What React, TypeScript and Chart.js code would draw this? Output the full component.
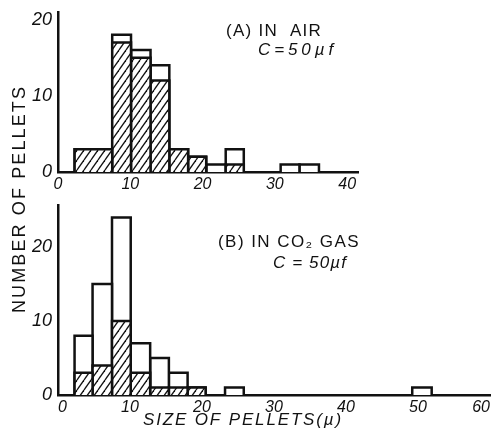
import React, { useEffect, useRef } from "react";
import { Chart, registerables } from "chart.js";

Chart.register(...registerables);

// ---------- data ----------
// Panel (A): in air, C = 50 µf
const binStartA = [2.3, 7.5, 10.1, 12.8, 15.4, 18.0, 20.5, 23.2, 30.8, 33.4];
const binEndA = [7.5, 10.1, 12.8, 15.4, 18.0, 20.5, 23.2, 25.7, 33.4, 36.1];
const totalA = [3, 18, 16, 14, 3, 2, 1, 3, 1, 1];
const hatchedA = [3, 17, 15, 12, 3, 2, 0, 1, 0, 0];

// Panel (B): in CO2 gas, C = 50 µf
const binStartB = [2.3, 4.8, 7.5, 10.1, 12.8, 15.4, 18.0, 23.2, 49.2];
const binEndB = [4.8, 7.5, 10.1, 12.8, 15.4, 18.0, 20.5, 25.8, 51.9];
const totalB = [8, 15, 24, 7, 5, 3, 1, 1, 1];
const hatchedB = [3, 4, 10, 3, 1, 1, 1, 0, 0];

const xTicksA = [0, 10, 20, 30, 40];
const yTicksA = [0, 10, 20];
const xTicksB = [0, 10, 20, 30, 40, 50, 60];
const yTicksB = [0, 10, 20];

const INK = "#111";
const W = 493;
const H = 435;

function makeHatch(): CanvasPattern | string {
  const c = document.createElement("canvas");
  const w = 7;
  const h = 10;
  c.width = w;
  c.height = h;
  const g = c.getContext("2d");
  if (!g) return "#fff";
  g.fillStyle = "#fff";
  g.fillRect(0, 0, w, h);
  g.strokeStyle = INK;
  g.lineWidth = 1.3;
  for (const off of [-w, 0, w]) {
    g.beginPath();
    g.moveTo(off, h);
    g.lineTo(off + w, 0);
    g.stroke();
  }
  const p = g.createPattern(c, "repeat");
  return p || "#fff";
}

function boxes(starts: number[], ends: number[], heights: number[], bg: any, order: number) {
  const out: any[] = [];
  heights.forEach((h, i) => {
    if (h <= 0) return;
    out.push({
      type: "line",
      data: [
        { x: starts[i], y: 0 },
        { x: starts[i], y: h },
        { x: ends[i], y: h },
        { x: ends[i], y: 0 },
      ],
      borderColor: INK,
      borderWidth: 2.5,
      borderJoinStyle: "miter",
      backgroundColor: bg,
      fill: "origin",
      pointRadius: 0,
      tension: 0,
      order,
    });
  });
  return out;
}

type TextItem = {
  text: string;
  x: number;
  y: number;
  font: string;
  width?: number;
  rotate?: boolean;
  align?: CanvasTextAlign;
};

function textPlugin(id: string, items: TextItem[]) {
  return {
    id,
    afterDraw(chart: any) {
      const ctx: CanvasRenderingContext2D = chart.ctx;
      items.forEach((it) => {
        ctx.save();
        ctx.font = it.font;
        ctx.fillStyle = INK;
        ctx.textBaseline = "middle";
        ctx.textAlign = it.align || "left";
        if (it.width) {
          const w = ctx.measureText(it.text).width;
          const n = Array.from(it.text).length;
          const sp = Math.max(0, (it.width - w) / n);
          (ctx as any).letterSpacing = `${sp}px`;
        }
        ctx.translate(it.x, it.y);
        if (it.rotate) ctx.rotate(-Math.PI / 2);
        ctx.fillText(it.text, 0, 0);
        ctx.restore();
      });
    },
  };
}

function axisOptions(
  min: number,
  max: number,
  ticks: number[],
  isX: boolean,
  fitSize: number,
  inner: boolean
) {
  return {
    type: "linear",
    position: isX ? "bottom" : "left",
    min,
    max,
    grid: { display: true, drawOnChartArea: false, drawTicks: false },
    border: { display: true, color: INK, width: 2.5 },
    ticks: {
      color: INK,
      padding: isX ? 3 : 6,
      align: inner ? "inner" : "center",
      maxRotation: 0,
      autoSkip: false,
      includeBounds: false,
      font: {
        family: "'Liberation Sans', Arial, sans-serif",
        style: "italic",
        size: isX ? 16 : 18,
      },
    },
    afterBuildTicks: (s: any) => {
      s.ticks = ticks.map((v) => ({ value: v }));
    },
    afterFit: (s: any) => {
      if (isX) {
        s.height = fitSize;
        s.paddingLeft = 0;
        s.paddingRight = 0;
      } else {
        s.width = fitSize;
        s.paddingTop = 0;
        s.paddingBottom = 0;
      }
    },
  };
}

function makeChart(
  canvas: HTMLCanvasElement,
  datasets: any[],
  xMax: number,
  yMax: number,
  xTicks: number[],
  yTicks: number[],
  padding: any,
  inner: boolean,
  plugin: any
) {
  return new Chart(canvas, {
    type: "line",
    data: { datasets },
    options: {
      responsive: false,
      animation: false,
      devicePixelRatio: 1,
      layout: { padding },
      plugins: {
        legend: { display: false },
        tooltip: { enabled: false },
        title: { display: false },
      },
      scales: {
        x: axisOptions(0, xMax, xTicks, true, 30, inner) as any,
        y: axisOptions(0, yMax, yTicks, false, 58, false) as any,
      },
    } as any,
    plugins: [plugin],
  });
}

export default function App() {
  const refA = useRef<HTMLCanvasElement>(null);
  const refB = useRef<HTMLCanvasElement>(null);

  useEffect(() => {
    if (!refA.current || !refB.current) return;
    const hatch = makeHatch();

    const dsA = [
      ...boxes(binStartA, binEndA, hatchedA, hatch, 0),
      ...boxes(binStartA, binEndA, totalA, "#fff", 1),
    ];
    const dsB = [
      ...boxes(binStartB, binEndB, hatchedB, hatch, 0),
      ...boxes(binStartB, binEndB, totalB, "#fff", 1),
    ];

    const textsA: TextItem[] = [
      { text: "(A) IN  AIR", x: 226, y: 31, font: "17px 'Liberation Sans', Arial, sans-serif", width: 96 },
      { text: "C=50µf", x: 258, y: 50, font: "italic 17px 'Liberation Sans', Arial, sans-serif", width: 79 },
      {
        text: "NUMBER OF PELLETS",
        x: 20,
        y: 199,
        font: "18px 'Liberation Sans', Arial, sans-serif",
        width: 228,
        rotate: true,
        align: "center",
      },
    ];
    const textsB: TextItem[] = [
      { text: "(B) IN CO₂ GAS", x: 218, y: 242, font: "17px 'Liberation Sans', Arial, sans-serif", width: 142 },
      { text: "C = 50µf", x: 273, y: 263, font: "italic 17px 'Liberation Sans', Arial, sans-serif", width: 74 },
      {
        text: "SIZE OF PELLETS(µ)",
        x: 243,
        y: 420,
        font: "italic 17px 'Liberation Sans', Arial, sans-serif",
        width: 200,
        align: "center",
      },
    ];

    const chartA = makeChart(
      refA.current,
      dsA,
      41.5,
      21,
      xTicksA,
      yTicksA,
      { left: 0, right: W - 358, top: 12, bottom: H - 172 - 30 },
      false,
      textPlugin("textsA", textsA)
    );
    const chartB = makeChart(
      refB.current,
      dsB,
      60,
      25.7,
      xTicksB,
      yTicksB,
      { left: 0, right: W - 490, top: 205, bottom: H - 395 - 30 },
      true,
      textPlugin("textsB", textsB)
    );
    return () => {
      chartA.destroy();
      chartB.destroy();
    };
  }, []);

  const canvasStyle: React.CSSProperties = {
    position: "absolute",
    left: 0,
    top: 0,
    width: W,
    height: H,
  };

  return (
    <div
      style={{
        position: "absolute",
        left: 0,
        top: 0,
        width: W,
        height: H,
        overflow: "hidden",
        background: "#fff",
      }}
    >
      <canvas ref={refB} width={W} height={H} style={canvasStyle} />
      <canvas ref={refA} width={W} height={H} style={canvasStyle} />
    </div>
  );
}
